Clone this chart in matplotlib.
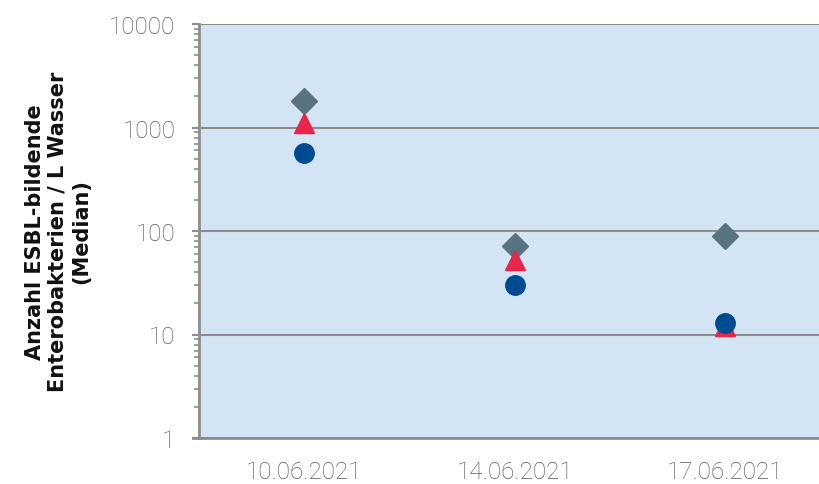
import numpy as np
import matplotlib.pyplot as plt
from matplotlib.ticker import LogLocator, NullFormatter, FixedLocator

# Sampling dates and median counts per series
dates = ["10.06.2021", "14.06.2021", "17.06.2021"]
series_diamond = [1800, 72, 90]
series_triangle = [1100, 53, 12]
series_circle = [570, 30, 13]

ytick_values = [1, 10, 100, 1000, 10000]
ytick_labels = ["1", "10", "100", "1000", "10000"]

fig = plt.figure(figsize=(8.2, 4.85), dpi=100)
ax = fig.add_axes([199 / 820, 1 - 439 / 485, 1 - 199 / 820, (439 - 25) / 485])
ax.set_facecolor("#d3e5f5")

x = np.arange(len(dates))
ax.plot(x, series_diamond, linestyle="none", marker="D", markersize=13,
        color="#587481", zorder=3)
ax.plot(x, series_triangle, linestyle="none", marker="^", markersize=15,
        color="#e8264a", zorder=4)
ax.plot(x, series_circle, linestyle="none", marker="o", markersize=14,
        color="#004a92", zorder=5)

ax.set_yscale("log")
ax.set_ylim(1, 10000)
ax.set_xlim(-0.5, 2.45)

ax.yaxis.set_major_locator(FixedLocator(ytick_values))
ax.set_yticklabels(ytick_labels)
ax.yaxis.set_minor_locator(LogLocator(base=10, subs=np.arange(2, 10)))
ax.yaxis.set_minor_formatter(NullFormatter())

ax.set_xticks(x)
ax.set_xticklabels(dates)

grid_col = "#8c8c8c"
ax.grid(axis="y", which="major", color=grid_col, linewidth=1.5, zorder=1)
ax.set_axisbelow(True)

for side in ["top", "right"]:
    ax.spines[side].set_visible(False)
ax.spines["left"].set_color(grid_col)
ax.spines["left"].set_linewidth(2)
ax.spines["bottom"].set_color(grid_col)
ax.spines["bottom"].set_linewidth(2)
ax.spines["bottom"].set_bounds(-0.53, 2.45)

ax.tick_params(axis="y", which="major", length=5, width=1.5, color=grid_col,
               pad=12)
ax.tick_params(axis="y", which="minor", length=3.5, width=1.2, color=grid_col)
ax.tick_params(axis="x", length=0, pad=16)
for lbl in ax.get_yticklabels() + ax.get_xticklabels():
    lbl.set_fontfamily("Roboto")
    lbl.set_fontweight("light")
    lbl.set_fontsize(17.5)
    lbl.set_color("#5a5a5a")

ax.set_ylabel("Anzahl ESBL-bildende\nEnterobakterien / L Wasser\n(Median)",
              fontsize=15, fontfamily="DejaVu Sans", fontweight="bold",
              color="#111111", labelpad=13, linespacing=1.2)

fig.savefig("out.png", dpi=100)
